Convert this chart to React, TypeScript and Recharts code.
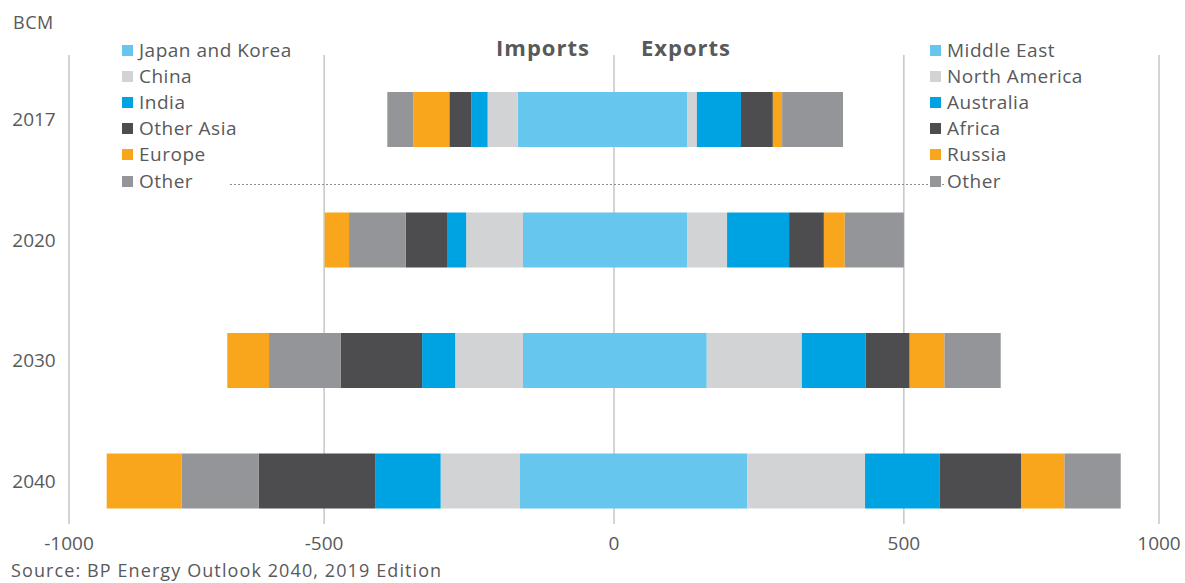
import { BarChart, Bar, XAxis, YAxis, CartesianGrid } from "recharts";

const YEARS = ["2017", "2020", "2030", "2040"];

// LNG imports, bcm (drawn left of zero)
const japanKorea = [166, 157, 157, 163];
const china = [52, 98, 117, 136];
const india = [28, 33, 57, 113];
const otherAsia = [38, 71, 140, 201];
const europe = [62, 42, 72, 129];
const otherImports = [45, 98, 124, 133];
// in 2017 Europe sits inside "Other", later years outside it
const europeNearZero = [true, false, false, false];

// LNG exports, bcm
const middleEast = [126, 126, 160, 230];
const northAmerica = [17, 69, 164, 203];
const australia = [76, 107, 110, 129];
const africa = [55, 60, 76, 140];
const russia = [16, 36, 60, 75];
const otherExports = [105, 102, 97, 97];

const AXIS_TICKS = [-940, -500, 0, 500, 940];
const AXIS_LABELS = ["-1000", "-500", "0", "500", "1000"];

const LIGHT_BLUE = "#66c6ee";
const LIGHT_GRAY = "#d1d3d4";
const BLUE = "#00a3e2";
const DARK = "#4d4d4f";
const ORANGE = "#f9a61c";
const GRAY = "#939598";
const TEXT = "#58595b";
const FONT = "'Open Sans', sans-serif";

const importLegend = [
  { name: "Japan and Korea", color: LIGHT_BLUE },
  { name: "China", color: LIGHT_GRAY },
  { name: "India", color: BLUE },
  { name: "Other Asia", color: DARK },
  { name: "Europe", color: ORANGE },
  { name: "Other", color: GRAY },
];

const exportLegend = [
  { name: "Middle East", color: LIGHT_BLUE },
  { name: "North America", color: LIGHT_GRAY },
  { name: "Australia", color: BLUE },
  { name: "Africa", color: DARK },
  { name: "Russia", color: ORANGE },
  { name: "Other", color: GRAY },
];

const data = YEARS.map((year, i) => ({
  year,
  jk: -japanKorea[i],
  china: -china[i],
  india: -india[i],
  otherAsia: -otherAsia[i],
  europeNear: europeNearZero[i] ? -europe[i] : 0,
  otherImports: -otherImports[i],
  europeFar: europeNearZero[i] ? 0 : -europe[i],
  middleEast: middleEast[i],
  northAmerica: northAmerica[i],
  australia: australia[i],
  africa: africa[i],
  russia: russia[i],
  otherExports: otherExports[i],
}));

const XTick = ({ x, y, payload }: any) => (
  <text x={x} y={y} dy={9} textAnchor="middle" fill={TEXT} fontSize={19} fontFamily={FONT}>
    {AXIS_LABELS[AXIS_TICKS.indexOf(payload.value)]}
  </text>
);

const YTick = ({ x, y, payload }: any) => (
  <text x={x} y={y} dy={7} textAnchor="middle" fill={TEXT} fontSize={19} fontFamily={FONT}>
    {payload.value}
  </text>
);

function LegendBlock({ items, left }: { items: { name: string; color: string }[]; left: number }) {
  return (
    <>
      {items.map((it, i) => (
        <div
          key={it.name}
          style={{
            position: "absolute",
            left,
            top: 37 + i * 26.2,
            height: 26,
            display: "flex",
            alignItems: "center",
            fontSize: 19,
            letterSpacing: 0.5,
            lineHeight: 1,
            color: TEXT,
            whiteSpace: "nowrap",
          }}
        >
          <span style={{ width: 11, height: 11, background: it.color, marginRight: 6 }} />
          {it.name}
        </div>
      ))}
    </>
  );
}

export default function App() {
  return (
    <div style={{ position: "absolute", left: 0, top: 0, width: 1185, height: 583, background: "#fff", fontFamily: FONT, overflow: "hidden" }}>
      <BarChart
        width={1185}
        height={583}
        data={data}
        layout="vertical"
        stackOffset="sign"
        margin={{ top: 59, right: 26, left: 0, bottom: 12 }}
      >
        <CartesianGrid vertical horizontal={false} y={55} height={469} stroke="#a7a9ac" />
        <XAxis
          type="number"
          domain={[-940, 940]}
          ticks={AXIS_TICKS}
          axisLine={false}
          tickLine={false}
          tickSize={0}
          tickMargin={0}
          height={30}
          tick={<XTick />}
        />
        <YAxis
          type="category"
          dataKey="year"
          width={69}
          axisLine={false}
          tickLine={false}
          tickSize={0}
          tickMargin={35}
          tick={<YTick />}
        />
        <Bar dataKey="jk" stackId="s" fill={LIGHT_BLUE} barSize={55} isAnimationActive={false} />
        <Bar dataKey="china" stackId="s" fill={LIGHT_GRAY} barSize={55} isAnimationActive={false} />
        <Bar dataKey="india" stackId="s" fill={BLUE} barSize={55} isAnimationActive={false} />
        <Bar dataKey="otherAsia" stackId="s" fill={DARK} barSize={55} isAnimationActive={false} />
        <Bar dataKey="europeNear" stackId="s" fill={ORANGE} barSize={55} isAnimationActive={false} />
        <Bar dataKey="otherImports" stackId="s" fill={GRAY} barSize={55} isAnimationActive={false} />
        <Bar dataKey="europeFar" stackId="s" fill={ORANGE} barSize={55} isAnimationActive={false} />
        <Bar dataKey="middleEast" stackId="s" fill={LIGHT_BLUE} barSize={55} isAnimationActive={false} />
        <Bar dataKey="northAmerica" stackId="s" fill={LIGHT_GRAY} barSize={55} isAnimationActive={false} />
        <Bar dataKey="australia" stackId="s" fill={BLUE} barSize={55} isAnimationActive={false} />
        <Bar dataKey="africa" stackId="s" fill={DARK} barSize={55} isAnimationActive={false} />
        <Bar dataKey="russia" stackId="s" fill={ORANGE} barSize={55} isAnimationActive={false} />
        <Bar dataKey="otherExports" stackId="s" fill={GRAY} barSize={55} isAnimationActive={false} />
      </BarChart>

      <svg style={{ position: "absolute", left: 230, top: 184, width: 715, height: 2 }}>
        <line x1={0} x2={715} y1={0.5} y2={0.5} stroke="#8c8c8c" strokeDasharray="2 2" />
      </svg>

      <div style={{ position: "absolute", left: 13, top: 13, fontSize: 18, letterSpacing: 0.5, lineHeight: 1, color: TEXT }}>BCM</div>
      <div style={{ position: "absolute", left: 443, width: 200, top: 36, textAlign: "center", fontSize: 22, fontWeight: 700, letterSpacing: 1, lineHeight: 1, color: TEXT }}>
        Imports
      </div>
      <div style={{ position: "absolute", left: 586, width: 200, top: 36, textAlign: "center", fontSize: 22, fontWeight: 700, letterSpacing: 1, lineHeight: 1, color: TEXT }}>
        Exports
      </div>

      <LegendBlock items={importLegend} left={122} />
      <LegendBlock items={exportLegend} left={930} />

      <div style={{ position: "absolute", left: 11, top: 561, fontSize: 18, letterSpacing: 1.1, lineHeight: 1, color: TEXT, whiteSpace: "nowrap" }}>
        Source: BP Energy Outlook 2040, 2019 Edition
      </div>
    </div>
  );
}
